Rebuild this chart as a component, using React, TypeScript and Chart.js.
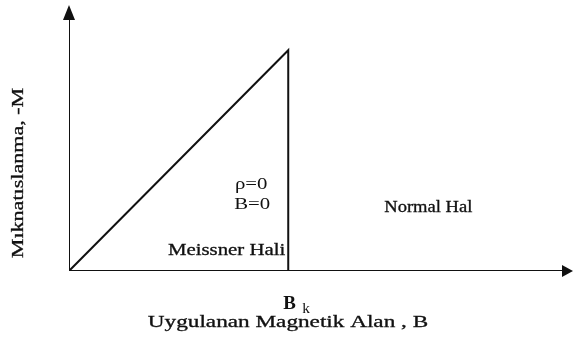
import React, { useEffect, useRef } from "react";
import { Chart, registerables } from "chart.js";

Chart.register(...registerables);

// Data (arbitrary units)
const criticalField = 4.35; // B_k
const peakMagnetization = 8.3;
const meissnerX = [0, criticalField, criticalField];
const meissnerY = [0, peakMagnetization, 0];
const xAxisRange = [0, 10];
const yAxisRange = [0, 10];

const yTitle = "Mıknatıslanma, -M";
const xTitle = "Uygulanan Magnetik Alan , B";
const bkMain = "B";
const bkSub = "k";
const rhoLabel = "ρ=0";
const bLabel = "B=0";
const meissnerLabel = "Meissner Hali";
const normalLabel = "Normal Hal";

const FONT = '"Liberation Serif", "DejaVu Serif", serif';
const INK = "#111";

function stretchText(ctx: any, text: string, x: number, y: number, align: string, sx: number, heavy = false) {
  ctx.save();
  ctx.translate(x, y);
  ctx.scale(sx, 1);
  ctx.textAlign = align;
  ctx.fillText(text, 0, 0);
  if (heavy) {
    ctx.lineWidth = 0.3;
    ctx.strokeStyle = INK;
    ctx.strokeText(text, 0, 0);
  }
  ctx.restore();
}

const overlay = {
  id: "overlay",
  afterDatasetsDraw(chart: any) {
    const { ctx, scales } = chart;
    const xs = scales.x;
    const ys = scales.y;
    const x0 = xs.getPixelForValue(xAxisRange[0]);
    const x1 = xs.getPixelForValue(xAxisRange[1]);
    const y0 = ys.getPixelForValue(yAxisRange[0]);
    const y1 = ys.getPixelForValue(yAxisRange[1]);
    ctx.save();
    ctx.fillStyle = INK;
    // y arrow head
    ctx.beginPath();
    ctx.moveTo(x0, y1);
    ctx.lineTo(x0 - 6, y1 + 15);
    ctx.lineTo(x0 + 6, y1 + 15);
    ctx.closePath();
    ctx.fill();
    // x arrow head
    ctx.beginPath();
    ctx.moveTo(x1, y0);
    ctx.lineTo(x1 - 11, y0 - 6);
    ctx.lineTo(x1 - 11, y0 + 6);
    ctx.closePath();
    ctx.fill();

    const bkx = xs.getPixelForValue(criticalField);
    ctx.textBaseline = "middle";
    // region labels
    ctx.font = `16px ${FONT}`;
    stretchText(ctx, rhoLabel, bkx - 37, y0 - 86, "center", 1.3);
    stretchText(ctx, bLabel, bkx - 36, y0 - 66, "center", 1.3);
    stretchText(ctx, meissnerLabel, bkx - 3, y0 - 20, "right", 1.3, true);
    stretchText(ctx, normalLabel, bkx + 96, y0 - 63, "left", 1.16, true);

    // B_k
    ctx.font = `bold 18px ${FONT}`;
    stretchText(ctx, bkMain, bkx - 5, y0 + 33, "left", 1.05);
    ctx.font = `14px ${FONT}`;
    stretchText(ctx, bkSub, bkx + 14, y0 + 38, "left", 1.1);

    // x title
    ctx.font = `16px ${FONT}`;
    stretchText(ctx, xTitle, 288, y0 + 52, "center", 1.45, true);

    // y title
    ctx.translate(x0 - 50, (y0 + y1) / 2 + 35);
    ctx.rotate(-Math.PI / 2);
    stretchText(ctx, yTitle, 0, 0, "center", 1.38, true);
    ctx.restore();
  },
};

export default function App() {
  const ref = useRef<HTMLCanvasElement>(null);
  useEffect(() => {
    if (!ref.current) return;
    const chart = new Chart(ref.current, {
      type: "scatter",
      data: {
        datasets: [
          {
            data: xAxisRange.map((x) => ({ x: x === xAxisRange[1] ? x - 0.1 : x, y: 0 })),
            showLine: true,
            borderColor: INK,
            borderWidth: 2,
            pointRadius: 0,
          },
          {
            data: yAxisRange.map((y) => ({ x: 0, y: y === yAxisRange[1] ? y - 0.3 : y })),
            showLine: true,
            borderColor: INK,
            borderWidth: 2,
            pointRadius: 0,
          },
          {
            data: meissnerX.map((x, i) => ({ x, y: meissnerY[i] })),
            showLine: true,
            borderColor: INK,
            borderWidth: 2,
            pointRadius: 0,
            tension: 0,
          },
        ],
      },
      options: {
        animation: false,
        responsive: false,
        layout: { padding: { left: 69, right: 0, top: 5, bottom: 78 } },
        plugins: { legend: { display: false }, tooltip: { enabled: false } },
        scales: {
          x: { type: "linear", min: xAxisRange[0], max: xAxisRange[1], display: false },
          y: { type: "linear", min: yAxisRange[0], max: yAxisRange[1], display: false },
        },
      },
      plugins: [overlay],
    });
    return () => chart.destroy();
  }, []);
  return (
    <div style={{ position: "fixed", left: 0, top: 0, width: 573, height: 349, background: "#fff" }}>
      <canvas ref={ref} width={573} height={349} />
    </div>
  );
}
